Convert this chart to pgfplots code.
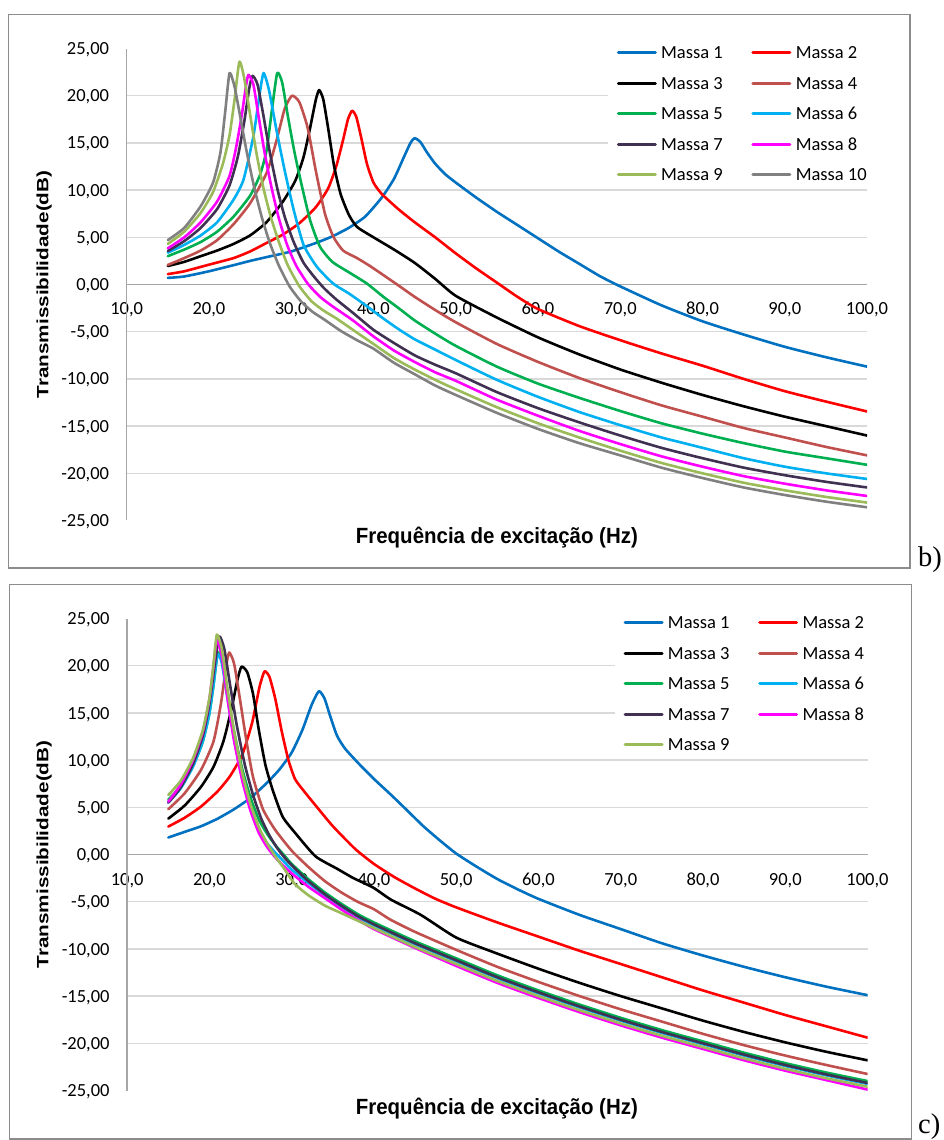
\documentclass[border=0pt]{standalone}
\usepackage{fontspec}
\setmainfont{Carlito}
\newfontfamily\labfont{Liberation Sans}
\newfontfamily\seriffont{Liberation Serif}
\usepackage{pgfplots}
\pgfplotsset{compat=1.18}

\definecolor{m1}{HTML}{0070C0}
\definecolor{m2}{HTML}{FF0000}
\definecolor{m3}{HTML}{000000}
\definecolor{m4}{HTML}{C0504D}
\definecolor{m5}{HTML}{00B050}
\definecolor{m6}{HTML}{00B0F0}
\definecolor{m7}{HTML}{403152}
\definecolor{m8}{HTML}{FF00FF}
\definecolor{m9}{HTML}{9BBB59}
\definecolor{m10}{HTML}{808080}
\definecolor{gridgray}{HTML}{D9D9D9}
\definecolor{axgray}{HTML}{A6A6A6}
\definecolor{boxgray}{HTML}{8C8C8C}

\newcommand{\tickfont}{\fontsize{18.5}{20}\selectfont}

\pgfplotsset{
  excel/.style={
    scale only axis, width=740.3pt, height=472pt,
    xmin=10, xmax=100, ymin=-25, ymax=25,
    axis line style={draw=none},
    major tick length=0pt, minor tick length=0pt,
    minor ytick={-20,-15,...,20}, yminorgrids,
    minor grid style={draw=gridgray, line width=1.3pt},
    extra y ticks={0}, extra y tick labels={},
    extra y tick style={ymajorgrids=true, grid style={draw=axgray, line width=1.5pt}},
    extra x ticks={10}, extra x tick labels={},
    extra x tick style={xmajorgrids=true, grid style={draw=axgray, line width=1.5pt}},
    xtick={10,20,...,100},
    xticklabels={{10,0},{20,0},{30,0},{40,0},{50,0},{60,0},{70,0},{80,0},{90,0},{100,0}},
    ytick={-25,-20,...,25},
    yticklabels={{-25,00},{-20,00},{-15,00},{-10,00},{-5,00},{0,00},{5,00},{10,00},{15,00},{20,00},{25,00}},
    tick label style={font=\tickfont, inner sep=0pt},
    xticklabel style={anchor=base, yshift=205.5pt},
    yticklabel style={anchor=base east, xshift=-17.4pt, yshift=-6.1pt},
    legend columns=2, legend cell align=left,
    legend style={anchor=north west, draw=none, fill=white,
      inner xsep=9pt, inner ysep=6pt, font=\tickfont,
      nodes={inner sep=0pt, text depth=0pt},
      row sep=18.1pt,
      /tikz/every odd column/.append style={column sep=4.3pt},
      /tikz/every even column/.append style={column sep=28.7pt}},
    legend image code/.code={\draw[#1, line width=3pt] (0pt,0pt) -- (37pt,0pt);},
  },
  ser/.style={line width=2.6pt, smooth, tension=0.35, line join=round, line cap=round},
}

\begin{document}
\begin{tikzpicture}[x=1pt, y=1pt]
% origin = lower-left corner of the upper plot area
\path[use as bounding box] (-126.7,520.5) rectangle (817.3,-619.5);
\draw[boxgray, line width=1.5pt] (-118.3,506) rectangle (783.3,-47.3);
\draw[boxgray, line width=1.5pt] (-117.1,-64) rectangle (784.8,-618.3);

% ---------- b) ----------
\begin{axis}[excel, at={(0,0)}, anchor=south west,
  legend style={at={(0.6497,1.0164)}}]
\addplot[ser, color=m1] coordinates {(15,0.7)(17,0.85)(20,1.4)(23,2.05)(25,2.5)(27,2.9)(30,3.5)(33,4.4)(35,5.1)(37,6.0)(39,7.2)(41,9.2)(42.5,11.2)(43.7,13.5)(44.5,15.0)(45,15.5)(45.7,15.1)(46.5,14.0)(47.5,12.8)(48.7,11.7)(50,10.8)(52.5,9.2)(55,7.7)(57.5,6.3)(60,4.9)(62.5,3.5)(65,2.2)(67.5,0.9)(70,-0.2)(75,-2.2)(80,-3.9)(85,-5.3)(90,-6.6)(95,-7.7)(100,-8.7)};
\addplot[ser, color=m2] coordinates {(15,1.1)(17,1.4)(20,2.1)(23,2.8)(25,3.5)(27,4.4)(29,5.3)(31,6.5)(33,8.2)(34.5,10.2)(35.5,12.6)(36.3,15.3)(36.9,17.5)(37.4,18.4)(37.9,17.8)(38.5,15.6)(39.2,12.8)(40,10.8)(41,9.6)(43,8.0)(45,6.6)(47.5,5.0)(50,3.3)(52.5,1.7)(55,0.2)(57.5,-1.3)(60,-2.6)(65,-4.4)(70,-5.9)(75,-7.3)(80,-8.6)(85,-10.0)(90,-11.3)(95,-12.4)(100,-13.45)};
\addplot[ser, color=m3] coordinates {(15,1.96)(17,2.4)(19,3.0)(21,3.6)(23,4.3)(25,5.2)(27,6.6)(29,8.8)(30.5,11.0)(31.5,13.5)(32.3,16.6)(33,19.6)(33.4,20.6)(33.9,19.6)(34.5,16.5)(35.2,12.6)(36,9.6)(37,7.4)(38,6.1)(40,5.0)(42.5,3.7)(45,2.3)(47.5,0.6)(50,-1.2)(55,-3.5)(60,-5.6)(65,-7.4)(70,-9.0)(75,-10.4)(80,-11.7)(85,-12.9)(90,-14.0)(95,-15.0)(100,-16.0)};
\addplot[ser, color=m4] coordinates {(15,2.07)(17,2.8)(19,3.6)(21,4.7)(23,6.4)(25,8.6)(27,11.8)(28.2,15.2)(29.2,18.6)(30.1,20.0)(31,19.3)(32,16.6)(33,12.0)(34.1,7.5)(35.1,5.1)(36.3,3.6)(38,2.8)(39.5,2.0)(41.2,1.0)(43.2,-0.2)(45,-1.3)(47.5,-2.7)(50,-4.0)(55,-6.3)(60,-8.2)(65,-9.9)(70,-11.4)(75,-12.8)(80,-14.0)(85,-15.2)(90,-16.2)(95,-17.2)(100,-18.1)};
\addplot[ser, color=m5] coordinates {(15,3.0)(17,3.7)(19,4.5)(21,5.6)(23,7.2)(25,9.4)(26.2,11.6)(27,14.2)(27.7,18.8)(28.3,22.4)(28.9,21.4)(29.6,17.8)(30.4,14.0)(31.2,10.8)(32.3,6.8)(33.5,4.0)(35,2.4)(37,1.3)(39.2,0.1)(41.2,-1.3)(43.2,-2.6)(45,-3.8)(47.5,-5.2)(50,-6.5)(55,-8.7)(60,-10.5)(65,-12.0)(70,-13.4)(75,-14.7)(80,-15.8)(85,-16.8)(90,-17.7)(95,-18.4)(100,-19.1)};
\addplot[ser, color=m6] coordinates {(15,3.37)(17,4.2)(19,5.2)(21,6.6)(23,9.0)(24.2,11.1)(25.4,15.7)(26.2,20.4)(26.65,22.4)(27.3,20.6)(28.2,16.4)(29.2,12.1)(30.3,7.9)(31.5,4.2)(33.1,1.9)(35.1,0.1)(37.1,-1.0)(39.2,-2.3)(41.2,-3.6)(43,-4.7)(45,-5.8)(47.5,-6.9)(50,-8.0)(55,-10.1)(60,-11.9)(65,-13.5)(70,-14.9)(75,-16.2)(80,-17.3)(85,-18.4)(90,-19.3)(95,-20.0)(100,-20.6)};
\addplot[ser, color=m7] coordinates {(15,3.55)(17,4.6)(19,6.0)(21,8.0)(22.5,10.5)(23.5,13.5)(24.3,17.3)(24.9,20.8)(25.3,22.1)(25.9,21.2)(26.6,18.0)(27.4,14.0)(28.3,10.2)(29.2,7.2)(30.3,4.5)(31.5,2.3)(32.8,0.8)(34,-0.4)(35.5,-1.6)(37.5,-3.0)(40,-4.8)(42.5,-6.2)(45,-7.5)(47.5,-8.5)(50,-9.4)(55,-11.4)(60,-13.1)(65,-14.6)(70,-16.0)(75,-17.3)(80,-18.4)(85,-19.4)(90,-20.2)(95,-20.9)(100,-21.5)};
\addplot[ser, color=m8] coordinates {(15,3.83)(17,5.0)(19,6.6)(21,8.8)(22.5,11.5)(23.3,14.5)(24,18.0)(24.5,21.0)(24.8,22.2)(25.4,21.2)(26,18.0)(26.8,13.8)(27.6,10.3)(28.5,7.0)(29.5,4.2)(30.6,2.0)(32,0.1)(33.5,-1.3)(35,-2.3)(37.5,-3.8)(40,-5.5)(42.5,-7.0)(45,-8.2)(47.5,-9.3)(50,-10.2)(55,-12.2)(60,-13.9)(65,-15.5)(70,-16.9)(75,-18.2)(80,-19.3)(85,-20.3)(90,-21.1)(95,-21.8)(100,-22.4)};
\addplot[ser, color=m9] coordinates {(15,4.3)(17,5.6)(19,7.6)(20.5,9.8)(21.7,12.8)(22.5,15.8)(23.1,19.5)(23.7,23.6)(24.3,21.8)(25,18.0)(25.8,13.8)(26.6,10.3)(27.5,7.2)(28.5,4.5)(29.6,2.0)(31,-0.2)(32.5,-1.8)(34,-2.8)(35.5,-3.6)(37.5,-4.8)(40,-6.3)(42.5,-7.8)(45,-9.0)(47.5,-10.1)(50,-11.1)(55,-13.0)(60,-14.7)(65,-16.2)(70,-17.6)(75,-18.9)(80,-20.0)(85,-21.0)(90,-21.8)(95,-22.5)(100,-23.1)};
\addplot[ser, color=m10] coordinates {(15,4.7)(17,6.0)(19,8.3)(20.5,10.8)(21.4,14.0)(22,18.5)(22.5,22.4)(23.1,21.0)(23.8,17.8)(24.6,14.0)(25.5,10.3)(26.4,7.2)(27.4,4.4)(28.5,2.0)(29.8,-0.2)(31.2,-1.8)(32.6,-2.9)(34,-3.7)(36,-4.9)(38,-5.9)(40,-6.8)(42.5,-8.3)(45,-9.5)(47.5,-10.7)(50,-11.7)(55,-13.6)(60,-15.3)(65,-16.8)(70,-18.1)(75,-19.4)(80,-20.5)(85,-21.5)(90,-22.3)(95,-23.0)(100,-23.6)};
\legend{Massa 1, Massa 2, Massa 3, Massa 4, Massa 5, Massa 6, Massa 7, Massa 8, Massa 9, Massa 10}
\end{axis}

% ---------- c) ----------
\begin{axis}[excel, at={(0,0)}, anchor=south west, xshift=0.5pt, yshift=-570pt,
  legend style={at={(0.6582,1.0164)}}]
\addplot[ser, color=m1] coordinates {(15,1.8)(17,2.4)(19,3.0)(21,3.8)(23,4.8)(25,6.0)(27,7.6)(28.5,9.0)(30,10.8)(31.3,13.2)(32.4,15.8)(33.3,17.3)(34,16.5)(34.7,14.6)(35.5,12.6)(36.5,11.2)(38.4,9.4)(40,8.0)(42.1,6.3)(44,4.7)(46,3.0)(48,1.5)(50,0.1)(52.5,-1.3)(55,-2.6)(57.5,-3.7)(60,-4.7)(65,-6.4)(70,-7.9)(75,-9.4)(80,-10.7)(85,-11.9)(90,-13.0)(95,-14.0)(100,-14.9)};
\addplot[ser, color=m2] coordinates {(15,2.96)(17,3.9)(19,5.1)(21,6.7)(22.5,8.3)(24,10.6)(25.2,14.0)(26.1,17.8)(26.7,19.4)(27.3,18.8)(28,16.5)(28.8,13.0)(29.6,10.0)(30.4,8.0)(31.5,6.7)(32.9,5.2)(35,3.0)(37.7,0.6)(40,-1.0)(42.5,-2.4)(45,-3.6)(47.5,-4.7)(50,-5.6)(55,-7.2)(60,-8.7)(65,-10.2)(70,-11.6)(75,-13.0)(80,-14.4)(85,-15.7)(90,-17.0)(95,-18.2)(100,-19.4)};
\addplot[ser, color=m3] coordinates {(15,3.8)(17,5.2)(19,7.2)(20.5,9.3)(21.7,12.0)(22.7,15.5)(23.4,18.5)(23.9,19.9)(24.6,19.3)(25.3,17.0)(26,13.2)(26.8,9.5)(27.7,6.8)(28.9,4.0)(30.5,2.2)(32.9,-0.2)(35.5,-1.5)(37.5,-2.5)(39.9,-3.5)(42.1,-4.8)(45.7,-6.4)(50,-8.8)(55,-10.5)(60,-12.1)(65,-13.6)(70,-15.0)(75,-16.3)(80,-17.6)(85,-18.8)(90,-19.9)(95,-20.9)(100,-21.8)};
\addplot[ser, color=m4] coordinates {(15,4.8)(17,6.5)(19,9.0)(20.5,12.0)(21.4,16.0)(22,19.8)(22.4,21.4)(23,20.2)(23.7,16.5)(24.5,12.0)(25.3,8.2)(26.5,4.8)(28,2.6)(30,0.4)(32,-1.3)(34,-2.8)(36,-4.0)(38,-5.0)(40,-5.8)(42,-6.9)(45,-8.2)(50,-10.1)(55,-11.9)(60,-13.5)(65,-15.0)(70,-16.4)(75,-17.7)(80,-19.0)(85,-20.2)(90,-21.3)(95,-22.3)(100,-23.25)};
\addplot[ser, color=m5] coordinates {(15,5.8)(16.5,7.2)(18,9.4)(19.2,12.0)(20,15.0)(20.5,18.0)(21,21.4)(21.5,20.5)(22.2,17.0)(23,13.0)(24,9.0)(25,6.0)(26,3.7)(27,2.2)(28,1.0)(29,0.0)(30,-1.0)(32,-2.6)(34,-4.0)(36,-5.2)(38,-6.3)(40,-7.2)(45,-9.2)(50,-11.0)(55,-12.8)(60,-14.4)(65,-15.9)(70,-17.3)(75,-18.6)(80,-19.8)(85,-21.0)(90,-22.1)(95,-23.1)(100,-24.0)};
\addplot[ser, color=m6] coordinates {(15,5.5)(16.5,7.0)(18,9.3)(19.2,12.0)(20,15.0)(20.5,18.0)(21,21.2)(21.5,20.3)(22.2,16.5)(23,12.2)(24,8.0)(25,4.8)(26,2.6)(27,1.2)(28,0.2)(29,-0.7)(30,-1.6)(32,-3.0)(34,-4.3)(36,-5.5)(38,-6.6)(40,-7.5)(45,-9.5)(50,-11.3)(55,-13.1)(60,-14.7)(65,-16.2)(70,-17.6)(75,-18.9)(80,-20.1)(85,-21.3)(90,-22.4)(95,-23.4)(100,-24.3)};
\addplot[ser, color=m7] coordinates {(15,5.5)(16.5,7.1)(18,9.6)(19.2,12.6)(20,16.0)(20.7,20.5)(21.2,23.1)(21.8,21.8)(22.5,18.0)(23.3,13.8)(24.3,9.5)(25.3,6.3)(26.3,3.8)(27.3,2.0)(28.3,0.6)(29.3,-0.5)(30.3,-1.4)(32,-2.8)(34,-4.2)(36,-5.4)(38,-6.5)(40,-7.4)(45,-9.4)(50,-11.2)(55,-13.0)(60,-14.6)(65,-16.1)(70,-17.5)(75,-18.8)(80,-20.0)(85,-21.2)(90,-22.3)(95,-23.3)(100,-24.2)};
\addplot[ser, color=m8] coordinates {(15,5.6)(16.5,7.4)(18,10.0)(19.2,13.0)(20,16.5)(20.5,20.0)(20.9,22.8)(21.5,21.0)(22.2,16.5)(23,12.0)(24,7.8)(25,4.6)(26,2.3)(27,0.8)(28,-0.3)(29,-1.2)(30,-2.0)(32,-3.4)(34,-4.6)(36,-5.8)(38,-6.9)(40,-7.9)(45,-9.9)(50,-11.8)(55,-13.6)(60,-15.2)(65,-16.7)(70,-18.1)(75,-19.4)(80,-20.6)(85,-21.8)(90,-22.9)(95,-23.9)(100,-24.9)};
\addplot[ser, color=m9] coordinates {(15,6.3)(16.5,7.8)(18,10.2)(19.2,13.2)(20,16.6)(20.5,20.2)(20.9,23.3)(21.5,21.8)(22.2,17.5)(23,13.0)(24,8.6)(25,5.3)(26,2.9)(27,1.2)(28,-0.2)(29,-1.4)(30.35,-3.1)(32,-4.3)(34,-5.4)(36,-6.2)(38,-7.0)(40,-7.8)(45,-9.8)(50,-11.6)(55,-13.4)(60,-15.0)(65,-16.5)(70,-17.9)(75,-19.2)(80,-20.4)(85,-21.6)(90,-22.7)(95,-23.7)(100,-24.6)};
\legend{Massa 1, Massa 2, Massa 3, Massa 4, Massa 5, Massa 6, Massa 7, Massa 8, Massa 9}
\end{axis}

% axis titles
\foreach \dy in {0,570}{
  \node[anchor=base, inner sep=0pt, font=\labfont\bfseries\fontsize{22}{24}\selectfont]
    at (370.2,-23.5-\dy) {\scalebox{0.93}[1]{Frequência de excitação (Hz)}};
  \node[anchor=base, inner sep=0pt, rotate=90, font=\labfont\bfseries\fontsize{20.7}{22}\selectfont]
    at (-78.4,236-\dy) {\scalebox{1}[0.79]{Transmissibilidade(dB)}};
}
\node[anchor=base west, inner sep=0pt, font=\seriffont\fontsize{28.5}{30}\selectfont] at (791.3,-46.5) {b)};
\node[anchor=base west, inner sep=0pt, font=\seriffont\fontsize{28.5}{30}\selectfont] at (791.3,-613) {c)};
\end{tikzpicture}
\end{document}
